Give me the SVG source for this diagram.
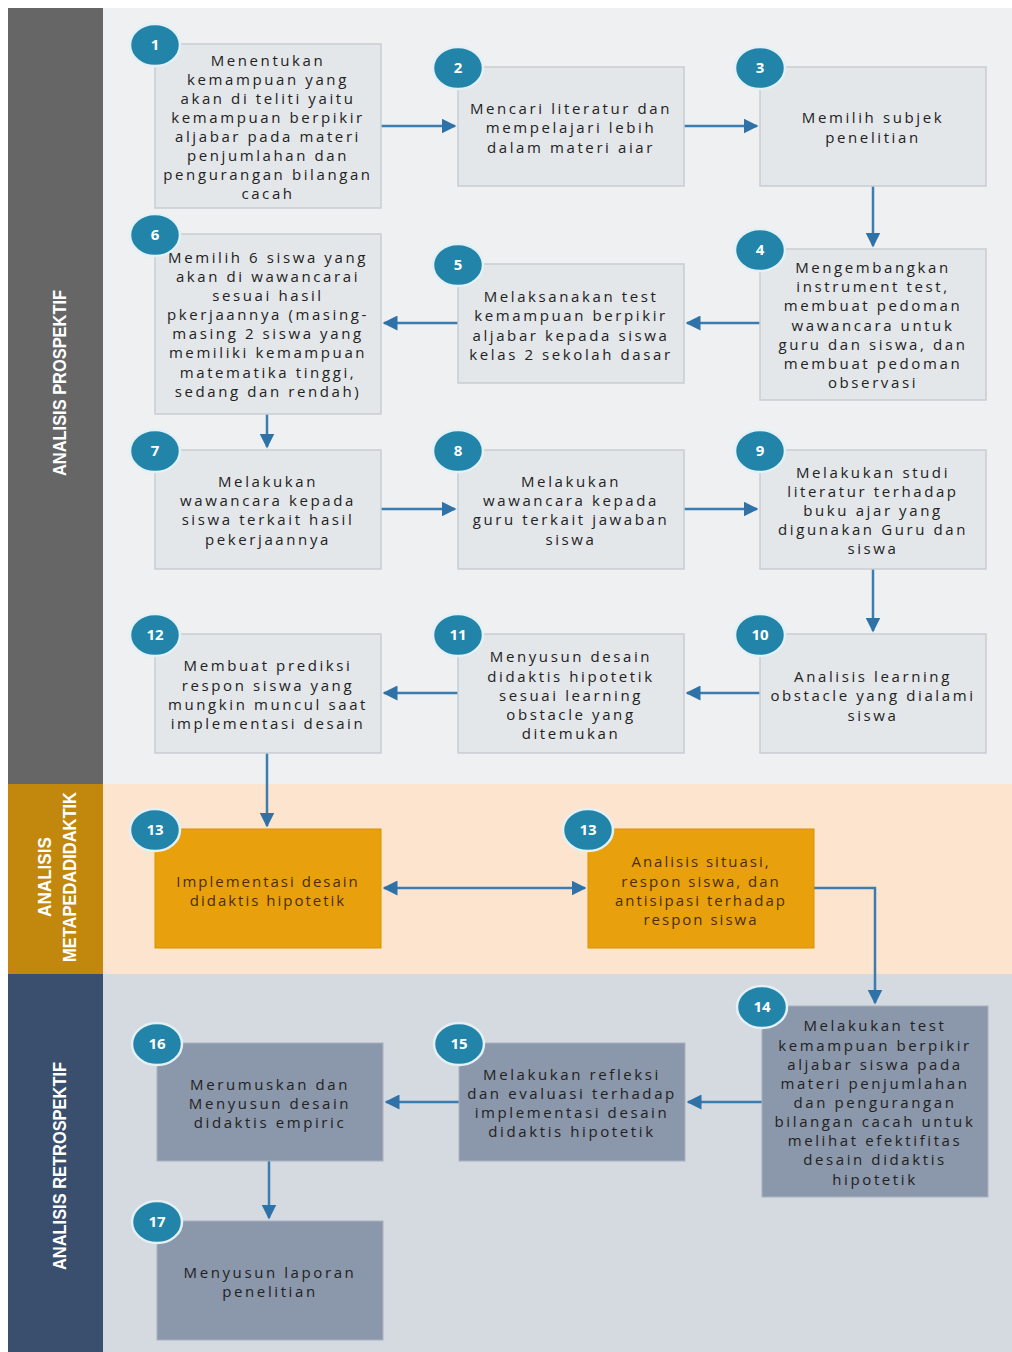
<svg xmlns="http://www.w3.org/2000/svg" width="1012" height="1352" viewBox="0 0 1012 1352">
<style>
.t{font-family:"Open Sans","Liberation Sans",sans-serif;font-size:15px;letter-spacing:2.6px;fill:#222222;text-anchor:middle}
.tm{fill:#4a2e00;letter-spacing:2px}
.bp{fill:#e4e7ea;stroke:#c9cdd2;stroke-width:1.5}
.bo{fill:#e8a10c;stroke:#d99200;stroke-width:1}
.br{fill:#8b97aa;stroke:#a9b2c0;stroke-width:1}
.c{fill:#2184a8;stroke:#e3f0f5;stroke-width:2.5}
.n{font-family:"Open Sans","Liberation Sans",sans-serif;font-size:15px;font-weight:bold;fill:#ffffff;text-anchor:middle}
.lane{font-family:"Liberation Sans",Arial,sans-serif;font-weight:bold;font-size:18px;fill:#ffffff;text-anchor:middle}
.a{fill:none;stroke:#3c7db1;stroke-width:2.5}
</style>
<defs>
<marker id="ah" viewBox="0 0 10 10" refX="9" refY="5" markerWidth="6" markerHeight="6" orient="auto-start-reverse" markerUnits="strokeWidth">
<path d="M0,0 L10,5 L0,10 z" fill="#2f72a8"/>
</marker>
</defs>
<rect x="0" y="0" width="1012" height="1352" fill="#ffffff"/>
<!-- lanes -->
<g id="lane-prospektif">
<rect x="8" y="8" width="95" height="776" fill="#666666"/>
<rect x="103" y="8" width="909" height="776" fill="#eef0f2"/>
<text class="lane" transform="translate(66,383) rotate(-90)" textLength="186" lengthAdjust="spacingAndGlyphs">ANALISIS PROSPEKTIF</text>
</g>
<g id="lane-metapedadidaktik">
<rect x="8" y="784" width="95" height="190" fill="#c2880e"/>
<rect x="103" y="784" width="909" height="190" fill="#fde4cf"/>
<text class="lane" transform="translate(51,877) rotate(-90)" textLength="80" lengthAdjust="spacingAndGlyphs">ANALISIS</text>
<text class="lane" transform="translate(76,877) rotate(-90)" textLength="170" lengthAdjust="spacingAndGlyphs">METAPEDADIDAKTIK</text>
</g>
<g id="lane-retrospektif">
<rect x="8" y="974" width="95" height="378" fill="#3a4f6d"/>
<rect x="103" y="974" width="909" height="378" fill="#d5d9e0"/>
<text class="lane" transform="translate(66,1166) rotate(-90)" textLength="208" lengthAdjust="spacingAndGlyphs">ANALISIS RETROSPEKTIF</text>
</g>
<!-- connectors -->
<g id="connectors">
<line class="a" x1="381" y1="126" x2="455" y2="126" marker-end="url(#ah)"/>
<line class="a" x1="684" y1="126" x2="757" y2="126" marker-end="url(#ah)"/>
<line class="a" x1="873" y1="186" x2="873" y2="246" marker-end="url(#ah)"/>
<line class="a" x1="760" y1="323" x2="687" y2="323" marker-end="url(#ah)"/>
<line class="a" x1="458" y1="323" x2="384" y2="323" marker-end="url(#ah)"/>
<line class="a" x1="267" y1="414" x2="267" y2="447" marker-end="url(#ah)"/>
<line class="a" x1="381" y1="509" x2="455" y2="509" marker-end="url(#ah)"/>
<line class="a" x1="684" y1="509" x2="757" y2="509" marker-end="url(#ah)"/>
<line class="a" x1="873" y1="569" x2="873" y2="631" marker-end="url(#ah)"/>
<line class="a" x1="760" y1="693" x2="687" y2="693" marker-end="url(#ah)"/>
<line class="a" x1="458" y1="693" x2="384" y2="693" marker-end="url(#ah)"/>
<line class="a" x1="267" y1="753" x2="267" y2="826" marker-end="url(#ah)"/>
<line class="a" x1="384" y1="888" x2="585" y2="888" marker-start="url(#ah)" marker-end="url(#ah)"/>
<polyline class="a" points="814,888 875,888 875,1003" marker-end="url(#ah)"/>
<line class="a" x1="762" y1="1102" x2="688" y2="1102" marker-end="url(#ah)"/>
<line class="a" x1="459" y1="1102" x2="386" y2="1102" marker-end="url(#ah)"/>
<line class="a" x1="269" y1="1161" x2="269" y2="1218" marker-end="url(#ah)"/>
</g>
<!-- nodes -->
<g id="node1">
<rect class="bp" x="155" y="44" width="226" height="164"/>
<text class="t" x="268"><tspan x="268" y="66">Menentukan</tspan><tspan x="268" y="85">kemampuan yang</tspan><tspan x="268" y="104">akan di teliti yaitu</tspan><tspan x="268" y="123">kemampuan berpikir</tspan><tspan x="268" y="142">aljabar pada materi</tspan><tspan x="268" y="161">penjumlahan dan</tspan><tspan x="268" y="180">pengurangan bilangan</tspan><tspan x="268" y="199">cacah</tspan></text>
<ellipse class="c" cx="155" cy="45" rx="25" ry="21"/><text class="n" x="155" y="50">1</text>
</g>
<g id="node2">
<rect class="bp" x="458" y="67" width="226" height="119"/>
<text class="t"><tspan x="571" y="114">Mencari literatur dan</tspan><tspan x="571" y="133">mempelajari lebih</tspan><tspan x="571" y="153">dalam materi aiar</tspan></text>
<ellipse class="c" cx="458" cy="68" rx="25" ry="21"/><text class="n" x="458" y="73">2</text>
</g>
<g id="node3">
<rect class="bp" x="760" y="67" width="226" height="119"/>
<text class="t"><tspan x="873" y="123">Memilih subjek</tspan><tspan x="873" y="143">penelitian</tspan></text>
<ellipse class="c" cx="760" cy="68" rx="25" ry="21"/><text class="n" x="760" y="73">3</text>
</g>
<g id="node4">
<rect class="bp" x="760" y="249" width="226" height="151"/>
<text class="t"><tspan x="873" y="273">Mengembangkan</tspan><tspan x="873" y="292">instrument test,</tspan><tspan x="873" y="311">membuat pedoman</tspan><tspan x="873" y="331">wawancara untuk</tspan><tspan x="873" y="350">guru dan siswa, dan</tspan><tspan x="873" y="369">membuat pedoman</tspan><tspan x="873" y="388">observasi</tspan></text>
<ellipse class="c" cx="760" cy="250" rx="25" ry="21"/><text class="n" x="760" y="255">4</text>
</g>
<g id="node5">
<rect class="bp" x="458" y="264" width="226" height="119"/>
<text class="t"><tspan x="571" y="302">Melaksanakan test</tspan><tspan x="571" y="321">kemampuan berpikir</tspan><tspan x="571" y="341">aljabar kepada siswa</tspan><tspan x="571" y="360">kelas 2 sekolah dasar</tspan></text>
<ellipse class="c" cx="458" cy="265" rx="25" ry="21"/><text class="n" x="458" y="270">5</text>
</g>
<g id="node6">
<rect class="bp" x="155" y="234" width="226" height="180"/>
<text class="t"><tspan x="268" y="263">Memilih 6 siswa yang</tspan><tspan x="268" y="282">akan di wawancarai</tspan><tspan x="268" y="301">sesuai hasil</tspan><tspan x="268" y="320">pkerjaannya (masing-</tspan><tspan x="268" y="339">masing 2 siswa yang</tspan><tspan x="268" y="358">memiliki kemampuan</tspan><tspan x="268" y="378">matematika tinggi,</tspan><tspan x="268" y="397">sedang dan rendah)</tspan></text>
<ellipse class="c" cx="155" cy="235" rx="25" ry="21"/><text class="n" x="155" y="240">6</text>
</g>
<g id="node7">
<rect class="bp" x="155" y="450" width="226" height="119"/>
<text class="t"><tspan x="268" y="487">Melakukan</tspan><tspan x="268" y="506">wawancara kepada</tspan><tspan x="268" y="525">siswa terkait hasil</tspan><tspan x="268" y="545">pekerjaannya</tspan></text>
<ellipse class="c" cx="155" cy="451" rx="25" ry="21"/><text class="n" x="155" y="456">7</text>
</g>
<g id="node8">
<rect class="bp" x="458" y="450" width="226" height="119"/>
<text class="t"><tspan x="571" y="487">Melakukan</tspan><tspan x="571" y="506">wawancara kepada</tspan><tspan x="571" y="525">guru terkait jawaban</tspan><tspan x="571" y="545">siswa</tspan></text>
<ellipse class="c" cx="458" cy="451" rx="25" ry="21"/><text class="n" x="458" y="456">8</text>
</g>
<g id="node9">
<rect class="bp" x="760" y="450" width="226" height="119"/>
<text class="t"><tspan x="873" y="478">Melakukan studi</tspan><tspan x="873" y="497">literatur terhadap</tspan><tspan x="873" y="516">buku ajar yang</tspan><tspan x="873" y="535">digunakan Guru dan</tspan><tspan x="873" y="554">siswa</tspan></text>
<ellipse class="c" cx="760" cy="451" rx="25" ry="21"/><text class="n" x="760" y="456">9</text>
</g>
<g id="node10">
<rect class="bp" x="760" y="634" width="226" height="119"/>
<text class="t"><tspan x="873" y="682">Analisis learning</tspan><tspan x="873" y="701">obstacle yang dialami</tspan><tspan x="873" y="721">siswa</tspan></text>
<ellipse class="c" cx="760" cy="635" rx="25" ry="21"/><text class="n" x="760" y="640">10</text>
</g>
<g id="node11">
<rect class="bp" x="458" y="634" width="226" height="119"/>
<text class="t"><tspan x="571" y="662">Menyusun desain</tspan><tspan x="571" y="682">didaktis hipotetik</tspan><tspan x="571" y="701">sesuai learning</tspan><tspan x="571" y="720">obstacle yang</tspan><tspan x="571" y="739">ditemukan</tspan></text>
<ellipse class="c" cx="458" cy="635" rx="25" ry="21"/><text class="n" x="458" y="640">11</text>
</g>
<g id="node12">
<rect class="bp" x="155" y="634" width="226" height="119"/>
<text class="t"><tspan x="268" y="671">Membuat prediksi</tspan><tspan x="268" y="691">respon siswa yang</tspan><tspan x="268" y="710">mungkin muncul saat</tspan><tspan x="268" y="729">implementasi desain</tspan></text>
<ellipse class="c" cx="155" cy="635" rx="25" ry="21"/><text class="n" x="155" y="640">12</text>
</g>
<g id="node13a">
<rect class="bo" x="155" y="829" width="226" height="119"/>
<text class="t tm"><tspan x="268" y="887">Implementasi desain</tspan><tspan x="268" y="906">didaktis hipotetik</tspan></text>
<ellipse class="c" cx="155" cy="830" rx="25" ry="21"/><text class="n" x="155" y="835">13</text>
</g>
<g id="node13b">
<rect class="bo" x="588" y="829" width="226" height="119"/>
<text class="t tm"><tspan x="701" y="867">Analisis situasi,</tspan><tspan x="701" y="887">respon siswa, dan</tspan><tspan x="701" y="906">antisipasi terhadap</tspan><tspan x="701" y="925">respon siswa</tspan></text>
<ellipse class="c" cx="588" cy="830" rx="25" ry="21"/><text class="n" x="588" y="835">13</text>
</g>
<g id="node14">
<rect class="br" x="762" y="1006" width="226" height="191"/>
<text class="t"><tspan x="875" y="1031">Melakukan test</tspan><tspan x="875" y="1051">kemampuan berpikir</tspan><tspan x="875" y="1070">aljabar siswa pada</tspan><tspan x="875" y="1089">materi penjumlahan</tspan><tspan x="875" y="1108">dan pengurangan</tspan><tspan x="875" y="1127">bilangan cacah untuk</tspan><tspan x="875" y="1146">melihat efektifitas</tspan><tspan x="875" y="1165">desain didaktis</tspan><tspan x="875" y="1185">hipotetik</tspan></text>
<ellipse class="c" cx="762" cy="1007" rx="25" ry="21"/><text class="n" x="762" y="1012">14</text>
</g>
<g id="node15">
<rect class="br" x="459" y="1043" width="226" height="118"/>
<text class="t"><tspan x="572" y="1080">Melakukan refleksi</tspan><tspan x="572" y="1099">dan evaluasi terhadap</tspan><tspan x="572" y="1118">implementasi desain</tspan><tspan x="572" y="1137">didaktis hipotetik</tspan></text>
<ellipse class="c" cx="459" cy="1044" rx="25" ry="21"/><text class="n" x="459" y="1049">15</text>
</g>
<g id="node16">
<rect class="br" x="157" y="1043" width="226" height="118"/>
<text class="t"><tspan x="270" y="1090">Merumuskan dan</tspan><tspan x="270" y="1109">Menyusun desain</tspan><tspan x="270" y="1128">didaktis empiric</tspan></text>
<ellipse class="c" cx="157" cy="1044" rx="25" ry="21"/><text class="n" x="157" y="1049">16</text>
</g>
<g id="node17">
<rect class="br" x="157" y="1221" width="226" height="119"/>
<text class="t"><tspan x="270" y="1278">Menyusun laporan</tspan><tspan x="270" y="1297">penelitian</tspan></text>
<ellipse class="c" cx="157" cy="1222" rx="25" ry="21"/><text class="n" x="157" y="1227">17</text>
</g>
</svg>
